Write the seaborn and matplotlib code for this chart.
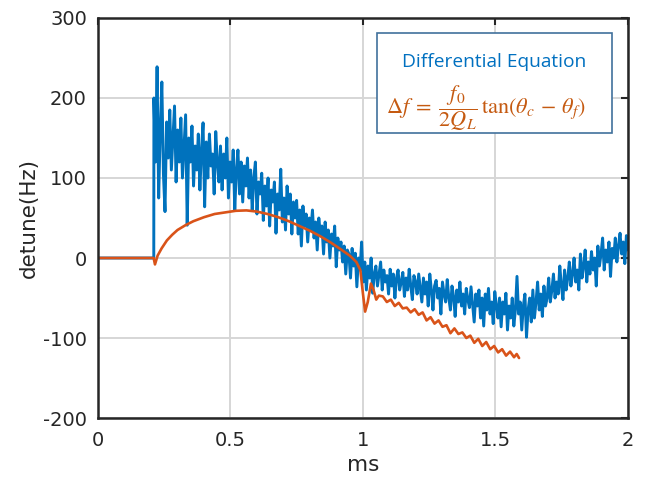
import numpy as np
import pandas as pd
import matplotlib
matplotlib.use("Agg")
import matplotlib.pyplot as plt
import seaborn as sns

# Measured detune (blue): flat until the RF pulse starts, then noisy samples
blue_head_t = [0.0, 0.2105]
blue_head_v = [0, 0]
blue_start, blue_end = 0.211, 2.0
blue_vals = [
    200, 120, 239, 75, 160, 220, 105, 58, 170, 125,
    185, 110, 150, 190, 95, 160, 120, 175, 100, 140,
    179, 41, 150, 120, 165, 90, 140, 110, 155, 85,
    135, 169, 64, 145, 100, 155, 115, 130, 80, 158,
    120, 95, 140, 85, 130, 100, 150, 75, 120, 95,
    135, 60, 110, 135, 80, 120, 70, 115, 90, 125,
    75, 110, 60, 100, 120, 55, 95, 80, 106, 47,
    90, 65, 100, 40, 85, 70, 95, 31, 80, 60,
    111, 45, 75, 35, 90, 55, 80, 30, 70, 50,
    72, 30, 60, 15, 65, 40, 55, 20, 50, 35,
    60, 25, 45, 10, 50, 30, 40, 5, 45, 20,
    35, 0, 30, 15, 40, -11, 25, 10, 20, -5,
    15, -20, 10, 5, -25, 12, -10, 6, -36, 0,
    -15, 20, -30, -5, -40, -10, -25, 0, -44, -20,
    -10, -35, -20, -5, -40, -15, -30, -22, -45, -14,
    -35, -20, -50, -25, -15, -40, -30, -18, -48, -25,
    -40, -14, -35, -52, -22, -30, -45, -20, -38, -55,
    -25, -45, -30, -60, -20, -40, -65, -35, -28, -50,
    -38, -70, -30, -45, -55, -27, -50, -65, -35, -48,
    -73, -40, -55, -30, -60, -45, -70, -38, -52, -62,
    -36, -58, -80, -45, -60, -40, -75, -50, -85, -45,
    -65, -38, -70, -55, -82, -42, -60, -75, -50, -86,
    -55, -70, -44, -90, -60, -75, -50, -85, -65, -23,
    -70, -55, -90, -60, -45, -99, -65, -50, -80, -40,
    -75, -55, -30, -65, -45, -73, -35, -60, -50, -25,
    -55, -40, -20, -50, -30, -45, -10, -35, -52, -15,
    -40, -25, -5, -35, -20, 0, -30, -15, -40, 5,
    -25, -10, 10, -30, -5, -20, 8, -15, 0, -35,
    15, -10, 5, 25, -15, 10, -5, 20, -23, 12,
    0, 25, -5, 15, 31, 5, 20, -7, 28, 10,
]

# Detune from the differential equation (orange)
orange_t = [
    0.0, 0.21, 0.215, 0.225, 0.24, 0.26, 0.28, 0.30, 0.33, 0.36,
    0.40, 0.44, 0.48, 0.52, 0.56, 0.60, 0.64, 0.68, 0.72, 0.76,
    0.80, 0.84, 0.88, 0.92, 0.95, 0.975, 0.99, 1.0, 1.008, 1.018,
    1.03, 1.04, 1.05, 1.06, 1.075, 1.09, 1.105, 1.12, 1.135, 1.15,
    1.165, 1.18, 1.195, 1.21, 1.225, 1.24, 1.255, 1.27, 1.285, 1.30,
    1.315, 1.33, 1.345, 1.36, 1.375, 1.39, 1.405, 1.42, 1.435, 1.45,
    1.465, 1.48, 1.495, 1.51, 1.525, 1.54, 1.555, 1.57, 1.58, 1.589,
]
orange_v = [
    0, 0, -8, 3, 12, 22, 29, 35, 41, 46,
    51, 55, 57, 59, 59.5, 58, 55, 51, 46, 40,
    34, 27, 19, 10, 3, -5, -15, -45, -67, -55,
    -32, -40, -52, -47, -48, -55, -52, -60, -56, -63,
    -62, -68, -64, -71, -68, -78, -74, -82, -78, -86,
    -84, -94, -88, -95, -93, -100, -97, -106, -101, -110,
    -105, -114, -110, -118, -114, -122, -117, -124, -120, -125,
]

x_ticks = [0, 0.5, 1, 1.5, 2]
x_tick_labels = ["0", "0.5", "1", "1.5", "2"]
y_ticks = [-200, -100, 0, 100, 200, 300]
y_tick_labels = ["-200", "-100", "0", "100", "200", "300"]

BLUE = "#0072BD"
ORANGE = "#D95319"
INK = "#262626"

sns.set_style("white")
plt.rcParams["font.family"] = ["DejaVu Sans"]
plt.rcParams["mathtext.fontset"] = "stix"

blue_t = list(blue_head_t) + list(np.linspace(blue_start, blue_end, len(blue_vals)))
blue_df = pd.DataFrame({"t": blue_t, "v": list(blue_head_v) + blue_vals})
orange_df = pd.DataFrame({"t": orange_t, "v": orange_v})

fig = plt.figure(figsize=(6.46, 4.94), dpi=100)
ax = fig.add_axes([0.1517, 0.1538, 0.8204, 0.8098])

sns.lineplot(data=blue_df, x="t", y="v", ax=ax, color=BLUE, lw=2.1,
             estimator=None, sort=False)
sns.lineplot(data=orange_df, x="t", y="v", ax=ax, color=ORANGE, lw=1.9,
             estimator=None, sort=False)

ax.set_xlim(0, 2)
ax.set_ylim(-200, 300)
ax.set_xticks(x_ticks, x_tick_labels)
ax.set_yticks(y_ticks, y_tick_labels)
ax.grid(True, color="#d6d6d6", lw=1.4)
ax.set_axisbelow(True)
for s in ax.spines.values():
    s.set_visible(True)
    s.set_color(INK)
    s.set_linewidth(1.8)
ax.tick_params(direction="in", length=5, width=1.5, colors=INK,
               labelsize=14, top=True, right=True)
ax.tick_params(axis="x", pad=9)
ax.tick_params(axis="y", pad=8)
for lab in ax.get_xticklabels() + ax.get_yticklabels():
    lab.set_color(INK)
ax.set_xlabel("ms", fontsize=15.5, color=INK, labelpad=4)
ax.set_ylabel("detune(Hz)", fontsize=15.5, color=INK, labelpad=3)

# Annotation box with the equation
box = plt.Rectangle((0.526, 0.7125), 0.444, 0.25, transform=ax.transAxes,
                    facecolor="white", edgecolor="#41719C", lw=1.2, zorder=5)
ax.add_patch(box)
ax.text(0.748, 0.89, "Differential Equation", transform=ax.transAxes,
        ha="center", va="center", color="#0070C0", fontsize=13.8,
        family=["Open Sans", "DejaVu Sans"], zorder=6)
ax.text(0.732, 0.775,
        r"$\Delta f\;=\;\dfrac{f_0}{2Q_L}\,\mathrm{tan}(\theta_c\,-\,\theta_f)$",
        transform=ax.transAxes, ha="center", va="center", color="#C55A11",
        fontsize=16, zorder=6)

fig.savefig("out.png", dpi=100)
